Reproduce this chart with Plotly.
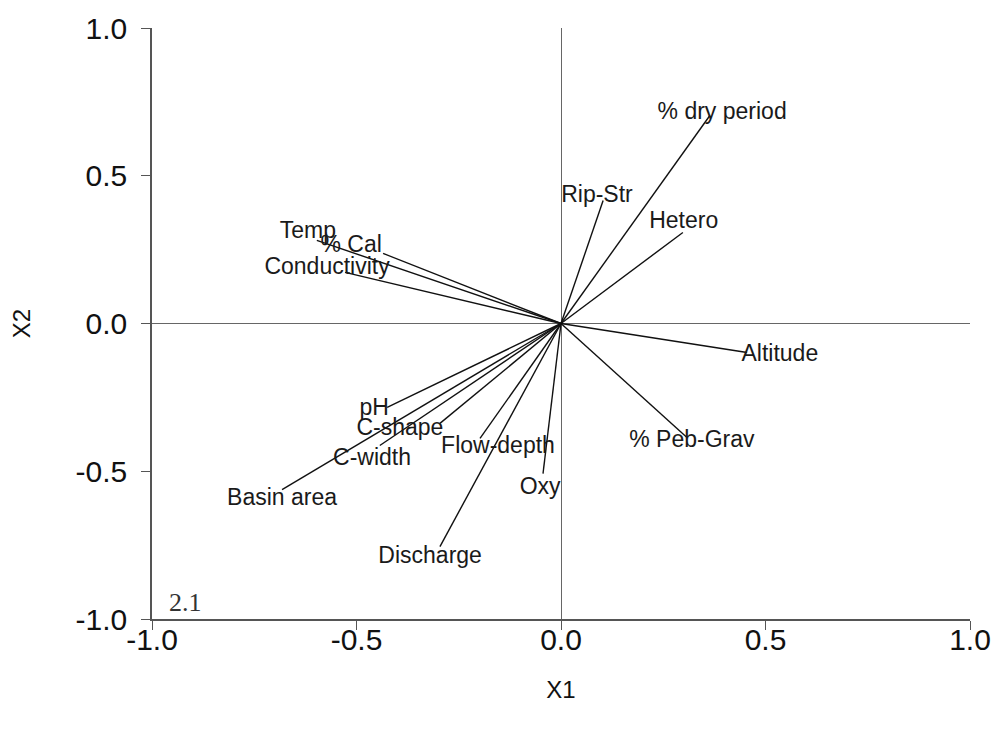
import plotly.graph_objects as go

# Environmental variable vectors (biplot scores on axes X1, X2)
variables = ["% dry period", "Rip-Str", "Hetero", "Temp", "% Cal", "Conductivity",
             "Altitude", "% Peb-Grav", "pH", "C-shape", "C-width", "Flow-depth",
             "Oxy", "Basin area", "Discharge"]
x1_score = [0.364, 0.103, 0.298, -0.597, -0.435, -0.528,
            0.455, 0.308, -0.425, -0.296, -0.443, -0.198,
            -0.044, -0.682, -0.296]
x2_score = [0.704, 0.416, 0.308, 0.281, 0.237, 0.173,
            -0.098, -0.386, -0.284, -0.338, -0.413, -0.389,
            -0.508, -0.562, -0.755]

# Label anchor positions for each vector name
label_x = [0.394, 0.088, 0.300, -0.619, -0.513, -0.572,
           0.535, 0.320, -0.457, -0.394, -0.462, -0.154,
           -0.051, -0.682, -0.320]
label_y = [0.710, 0.430, 0.342, 0.308, 0.260, 0.186,
           -0.108, -0.400, -0.291, -0.359, -0.460, -0.420,
           -0.558, -0.596, -0.792]

tick_vals = [-1.0, -0.5, 0.0, 0.5, 1.0]
tick_text = ["-1.0", "-0.5", "0.0", "0.5", "1.0"]

seg_x, seg_y = [], []
for vx, vy in zip(x1_score, x2_score):
    seg_x += [0.0, vx, None]
    seg_y += [0.0, vy, None]

fig = go.Figure()
fig.add_trace(go.Scatter(x=seg_x, y=seg_y, mode="lines",
                         line=dict(color="#111111", width=1.4),
                         hoverinfo="skip", showlegend=False))
fig.add_trace(go.Scatter(x=label_x, y=label_y, mode="text", text=variables,
                         textfont=dict(family="Liberation Sans, Arial", size=23, color="#1a1a1a"),
                         textposition="middle center", showlegend=False))

fig.add_annotation(x=-0.919, y=-0.944, text="2.1", showarrow=False,
                   font=dict(family="Liberation Serif, Times New Roman", size=26, color="#333333"))

axis_common = dict(range=[-1, 1], tickvals=tick_vals, ticktext=tick_text,
                   showgrid=False, zeroline=True, zerolinecolor="#666666", zerolinewidth=1.2,
                   showline=True, linecolor="#555555", linewidth=1.5, automargin=False,
                   ticks="outside", ticklen=9, tickcolor="#555555", tickwidth=1.2,
                   tickfont=dict(family="Liberation Sans, Arial", size=30, color="#111111"))

fig.update_layout(
    width=994, height=733,
    margin=dict(l=152, r=24, t=28, b=114),
    paper_bgcolor="white", plot_bgcolor="white",
    xaxis=dict(**axis_common, ticklabelstandoff=-16,
               title=dict(text="X1", font=dict(family="Liberation Sans, Arial", size=24, color="#111111"),
                          standoff=26)),
    yaxis=dict(**axis_common, ticklabelstandoff=8,
               title=dict(text="X2", font=dict(family="Liberation Sans, Arial", size=24, color="#111111"),
                          standoff=38)),
)

fig.write_html("out.html")
